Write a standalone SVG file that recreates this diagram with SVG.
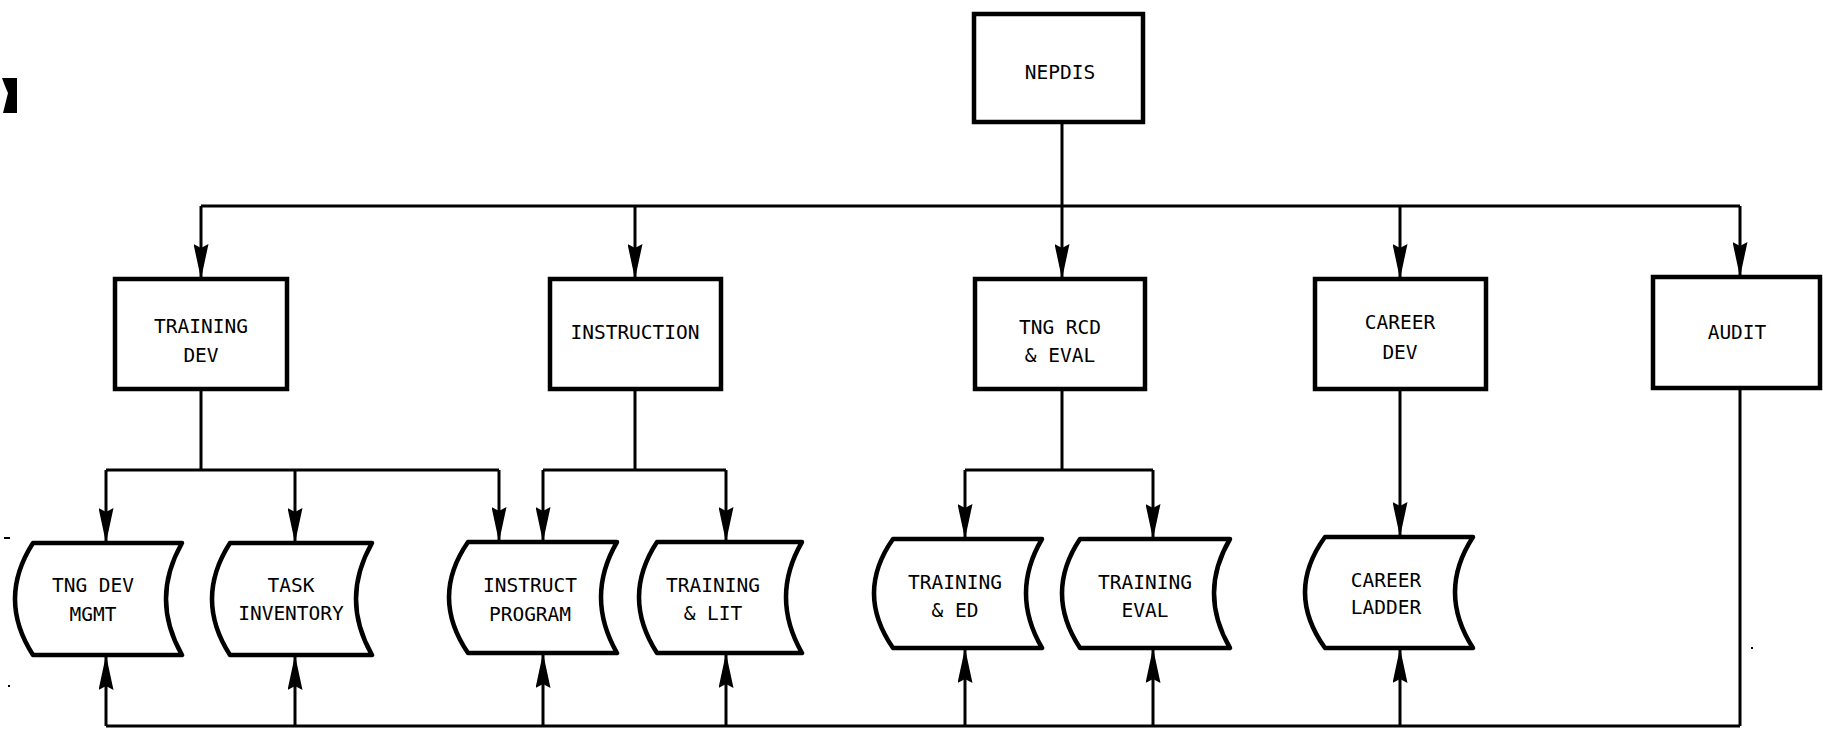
<svg xmlns="http://www.w3.org/2000/svg" width="1823" height="730" viewBox="0 0 1823 730">
<style>
  .box{fill:#fff;stroke:#000;stroke-width:4.5;stroke-linejoin:miter}
  .store{fill:#fff;stroke:#000;stroke-width:4.5;stroke-linejoin:round}
  .lbl{font-family:"DejaVu Sans Mono","Liberation Mono",monospace;font-size:19.5px;fill:#000;text-anchor:middle}
  .con{fill:none;stroke:#000;stroke-width:3}
  .arr{marker-end:url(#ah)}
</style>
<defs>
  <marker id="ah" viewBox="0 0 35 15" refX="35" refY="7.5" markerWidth="35" markerHeight="15" markerUnits="userSpaceOnUse" orient="auto">
    <path d="M0,0 L35,7.5 L0,15 L4,7.5 Z" fill="#000"/>
  </marker>
</defs>
<rect width="1823" height="730" fill="#fff"/>

<!-- scan marks -->
<g id="marks" fill="#000">
  <polygon points="2,78 17,78 17,113 3,113 8,93 5,86"/>
  <rect x="4" y="537" width="6" height="2"/>
  <rect x="8" y="685" width="2" height="2"/>
  <rect x="1751" y="647" width="2" height="2"/>
</g>

<g id="connectors">
  <path class="con" d="M1062,122 V206 M201,206 H1740"/>
  <path class="con arr" d="M201,206 V279"/>
  <path class="con arr" d="M635,206 V279"/>
  <path class="con arr" d="M1062,206 V279"/>
  <path class="con arr" d="M1400,206 V279"/>
  <path class="con arr" d="M1740,206 V277"/>

  <path class="con" d="M201,389 V470 M106,470 H499"/>
  <path class="con" d="M635,389 V470 M543,470 H726"/>
  <path class="con" d="M1062,389 V470 M965,470 H1153"/>
  <path class="con arr" d="M106,470 V543"/>
  <path class="con arr" d="M295,470 V543"/>
  <path class="con arr" d="M499,470 V542"/>
  <path class="con arr" d="M543,470 V542"/>
  <path class="con arr" d="M726,470 V542"/>
  <path class="con arr" d="M965,470 V539"/>
  <path class="con arr" d="M1153,470 V539"/>
  <path class="con arr" d="M1400,389 V537"/>

  <path class="con" d="M1740,389 V726 M106,726 H1740"/>
  <path class="con arr" d="M106,726 V655"/>
  <path class="con arr" d="M295,726 V655"/>
  <path class="con arr" d="M543,726 V653"/>
  <path class="con arr" d="M726,726 V653"/>
  <path class="con arr" d="M965,726 V648"/>
  <path class="con arr" d="M1153,726 V648"/>
  <path class="con arr" d="M1400,726 V648"/>
</g>

<g id="nepdis">
  <rect class="box" x="974" y="14" width="169" height="108"/>
  <text class="lbl" x="1060" y="79">NEPDIS</text>
</g>

<g id="training-dev">
  <rect class="box" x="115" y="279" width="172" height="110"/>
  <text class="lbl" x="201" y="333">TRAINING</text>
  <text class="lbl" x="201" y="362">DEV</text>
</g>
<g id="instruction">
  <rect class="box" x="550" y="279" width="171" height="110"/>
  <text class="lbl" x="635" y="339">INSTRUCTION</text>
</g>
<g id="tng-rcd-eval">
  <rect class="box" x="975" y="279" width="170" height="110"/>
  <text class="lbl" x="1060" y="334">TNG RCD</text>
  <text class="lbl" x="1060" y="362">&amp; EVAL</text>
</g>
<g id="career-dev">
  <rect class="box" x="1315" y="279" width="171" height="110"/>
  <text class="lbl" x="1400" y="329">CAREER</text>
  <text class="lbl" x="1400" y="359">DEV</text>
</g>
<g id="audit">
  <rect class="box" x="1653" y="277" width="167" height="111"/>
  <text class="lbl" x="1737" y="339">AUDIT</text>
</g>

<g id="tng-dev-mgmt">
  <path class="store" d="M33,543 H182 Q150,599 182,655 H33 Q-3,599 33,543 Z"/>
  <text class="lbl" x="93" y="592">TNG DEV</text>
  <text class="lbl" x="93" y="621">MGMT</text>
</g>
<g id="task-inventory">
  <path class="store" d="M230,543 H372 Q340,599 372,655 H230 Q194,599 230,543 Z"/>
  <text class="lbl" x="291" y="592">TASK</text>
  <text class="lbl" x="291" y="620">INVENTORY</text>
</g>
<g id="instruct-program">
  <path class="store" d="M468,542 H617 Q585,597 617,653 H468 Q430,597 468,542 Z"/>
  <text class="lbl" x="530" y="592">INSTRUCT</text>
  <text class="lbl" x="530" y="621">PROGRAM</text>
</g>
<g id="training-lit">
  <path class="store" d="M657,542 H802 Q770,597 802,653 H657 Q621,597 657,542 Z"/>
  <text class="lbl" x="713" y="592">TRAINING</text>
  <text class="lbl" x="713" y="620">&amp; LIT</text>
</g>
<g id="training-ed">
  <path class="store" d="M893,539 H1042 Q1010,593 1042,648 H893 Q855,593 893,539 Z"/>
  <text class="lbl" x="955" y="589">TRAINING</text>
  <text class="lbl" x="955" y="617">&amp; ED</text>
</g>
<g id="training-eval">
  <path class="store" d="M1080,539 H1230 Q1198,593 1230,648 H1080 Q1044,593 1080,539 Z"/>
  <text class="lbl" x="1145" y="589">TRAINING</text>
  <text class="lbl" x="1145" y="617">EVAL</text>
</g>
<g id="career-ladder">
  <path class="store" d="M1325,537 H1473 Q1437,592 1473,648 H1325 Q1285,592 1325,537 Z"/>
  <text class="lbl" x="1386" y="587">CAREER</text>
  <text class="lbl" x="1386" y="614">LADDER</text>
</g>
</svg>
